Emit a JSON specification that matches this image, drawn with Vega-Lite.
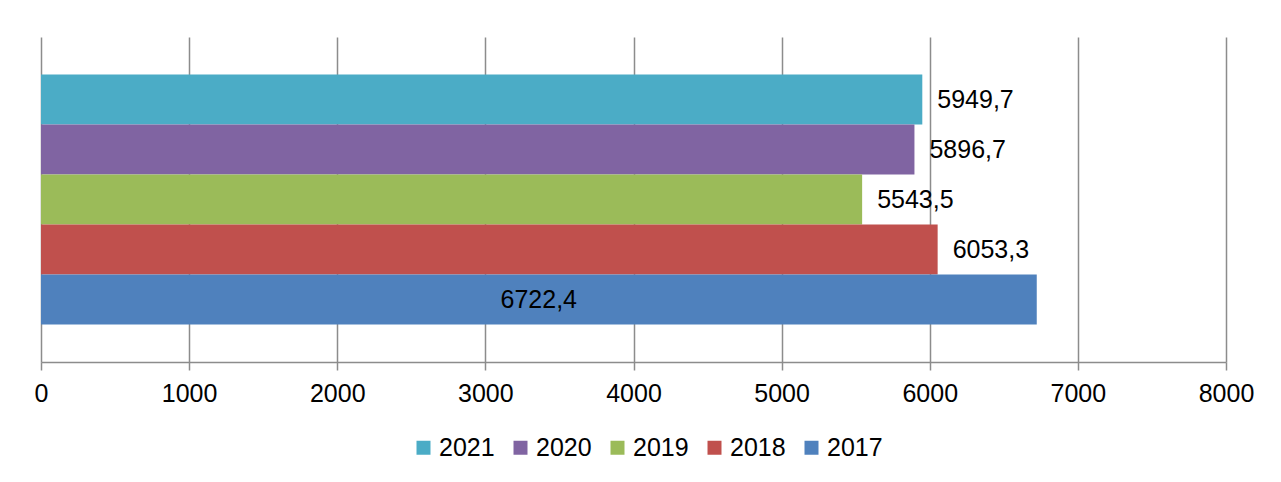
{
  "$schema": "https://vega.github.io/schema/vega-lite/v6.json",
  "width": 1185,
  "height": 325,
  "autosize": {"type": "none"},
  "padding": {"left": 41, "top": 37, "right": 55, "bottom": 120},
  "background": "white",
  "config": {
    "font": "Liberation Sans",
    "view": {"stroke": null},
    "locale": {"number": {"decimal": ",", "thousands": "", "grouping": [3], "currency": ["", ""]}}
  },
  "data": {
    "values": [
      {"year": "2021", "value": 5949.7},
      {"year": "2020", "value": 5896.7},
      {"year": "2019", "value": 5543.5},
      {"year": "2018", "value": 6053.3},
      {"year": "2017", "value": 6722.4}
    ]
  },
  "encoding": {
    "y": {"field": "year", "type": "nominal", "sort": "descending", "scale": {"paddingInner": 0, "paddingOuter": 0.75}, "axis": null},
    "x": {
      "field": "value", "type": "quantitative",
      "scale": {"domain": [0, 8000], "nice": false},
      "axis": {
        "title": null,
        "values": [0, 1000, 2000, 3000, 4000, 5000, 6000, 7000, 8000],
        "format": "d",
        "grid": true, "gridColor": "#8c8c8c", "gridWidth": 1.5,
        "domainColor": "#8c8c8c", "domainWidth": 1.5,
        "tickColor": "#8c8c8c", "tickWidth": 1.5, "tickSize": 8,
        "labelFontSize": 25, "labelColor": "#000000", "labelPadding": 11,
        "labelFlush": false, "labelOverlap": false
      }
    }
  },
  "layer": [
    {
      "mark": {"type": "bar", "strokeWidth": 0},
      "encoding": {
        "color": {
          "field": "year", "type": "nominal", "sort": "descending",
          "scale": {"domain": ["2021", "2020", "2019", "2018", "2017"], "range": ["#4BACC6", "#8064A2", "#9BBB59", "#C0504D", "#4F81BD"]},
          "legend": {
            "title": null, "orient": "none", "direction": "horizontal",
            "legendX": 370, "legendY": 398,
            "symbolType": "square", "symbolSize": 196, "symbolStrokeWidth": 0,
            "labelFontSize": 25, "labelColor": "#000000", "labelOffset": 3,
            "columnPadding": 13
          }
        }
      }
    },
    {
      "transform": [{"filter": "datum.year != '2017'"}],
      "mark": {"type": "text", "align": "left", "baseline": "middle", "dx": 15, "fontSize": 25, "color": "#000000"},
      "encoding": {"text": {"field": "value", "type": "quantitative", "format": ".1f"}}
    },
    {
      "transform": [{"filter": "datum.year == '2017'"}],
      "mark": {"type": "text", "align": "center", "baseline": "middle", "dx": -498, "fontSize": 25, "color": "#000000"},
      "encoding": {"text": {"field": "value", "type": "quantitative", "format": ".1f"}}
    }
  ]
}
